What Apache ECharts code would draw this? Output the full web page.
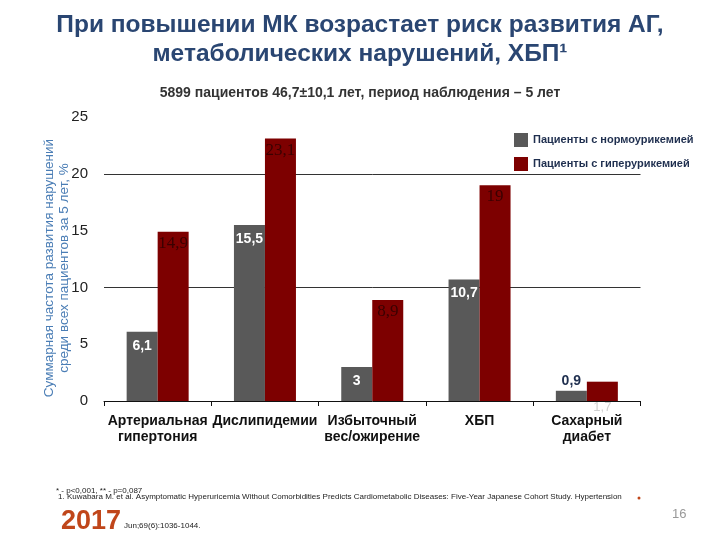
<!DOCTYPE html>
<html><head><meta charset="utf-8">
<script src="https://cdn.jsdelivr.net/npm/echarts@6/dist/echarts.min.js"></script>
<style>html,body{margin:0;padding:0;background:#fff}#c{width:720px;height:540px}</style>
</head><body><div id="c"></div>
<script>
var categories = ['Артериальная\nгипертония', 'Дислипидемии', 'Избыточный\nвес/ожирение', 'ХБП', 'Сахарный\nдиабет'];
var normoValues = [6.1, 15.5, 3, 10.7, 0.9];
var hyperValues = [14.9, 23.1, 8.9, 19, 1.7];
var seriesNames = ['Пациенты с нормоурикемией', 'Пациенты с гиперурикемией'];
var gridLineValues = [10, 20];
var yTicks = {min: 0, max: 25, interval: 5};

function fmt(v){ return String(v).replace('.', ','); }

var normoData = normoValues.map(function(v){
  if (v < 2) return {value: v, label: {position: 'top', color: '#1f2f4f', distance: 3}};
  return v;
});
var hyperData = hyperValues.map(function(v){
  if (v < 2) return {value: v, label: {position: 'bottom', color: '#d0d0d0', fontSize: 13, distance: 0, fontFamily: 'Liberation Sans'}};
  return v;
});

var chart = echarts.init(document.getElementById('c'), null, {renderer: 'canvas'});
chart.setOption({
  animation: false,
  backgroundColor: '#fff',
  title: [{
    text: 'При повышении МК возрастает риск развития АГ,\nметаболических нарушений, ХБП¹',
    left: 'center', top: 6,
    textStyle: {fontFamily: 'Liberation Sans', fontWeight: 'bold', fontSize: 24.5, color: '#2a4672', lineHeight: 29}
  }, {
    text: '5899 пациентов 46,7±10,1 лет, период наблюдения – 5 лет',
    left: 'center', top: 81,
    textStyle: {fontFamily: 'Liberation Sans', fontWeight: 'bold', fontSize: 14, color: '#333'}
  }],
  legend: {
    orient: 'vertical', left: 509, top: 128, itemWidth: 14, itemHeight: 14, itemGap: 10, icon: 'rect',
    textStyle: {fontFamily: 'Liberation Sans', fontWeight: 'bold', fontSize: 11, color: '#1f2f4f'},
    data: seriesNames
  },
  grid: {left: 104, right: 79.5, top: 117, bottom: 139},
  xAxis: {
    type: 'category', data: categories,
    axisLine: {lineStyle: {color: '#111', width: 1}},
    axisTick: {show: true, length: 5, lineStyle: {color: '#111'}},
    axisLabel: {fontFamily: 'Liberation Sans', fontWeight: 'bold', fontSize: 14, color: '#111', margin: 12, lineHeight: 16, interval: 0}
  },
  yAxis: {
    type: 'value', min: yTicks.min, max: yTicks.max, interval: yTicks.interval,
    axisLine: {show: false}, axisTick: {show: false}, splitLine: {show: false},
    axisLabel: {fontFamily: 'Liberation Sans', fontSize: 15, color: '#222', margin: 16}
  },
  series: [{
    name: seriesNames[0], type: 'bar', data: normoData, barWidth: 31, barGap: '0%',
    itemStyle: {color: '#595959'},
    label: {show: true, position: 'insideTop', distance: 7, formatter: function(p){return fmt(p.value);},
      fontFamily: 'Liberation Sans', fontWeight: 'bold', fontSize: 14, color: '#fff'},
    markLine: {silent: true, symbol: 'none', label: {show: false}, z: 1,
      lineStyle: {color: '#333', type: 'solid', width: 1},
      data: gridLineValues.map(function(v){ return {yAxis: v}; })}
  }, {
    name: seriesNames[1], type: 'bar', data: hyperData, barWidth: 31,
    itemStyle: {color: '#7d0000'},
    label: {show: true, position: 'insideTop', distance: 3, formatter: function(p){return fmt(p.value);},
      fontFamily: 'Liberation Serif', fontSize: 17, color: '#3a0000'}
  }],
  graphic: [
    {type: 'text', x: 57, y: 268, rotation: Math.PI / 2,
      style: {text: 'Суммарная частота развития нарушений\nсреди всех пациентов за 5 лет, %', fill: '#4a7db5',
        font: '13.5px Liberation Sans', textAlign: 'center', textVerticalAlign: 'middle', lineHeight: 15}},
    {type: 'text', x: 56, y: 487, style: {text: '* - p<0,001, ** - p=0,087', fill: '#222', font: '8px Liberation Sans'}},
    {type: 'text', x: 58, y: 493, style: {text: '1. Kuwabara M. et al. Asymptomatic Hyperuricemia Without Comorbidities Predicts Cardiometabolic Diseases: Five-Year Japanese Cohort Study. Hypertension', fill: '#222', font: '8px Liberation Sans'}},
    {type: 'circle', shape: {cx: 639, cy: 498, r: 1.5}, style: {fill: '#c0461a'}},
    {type: 'text', x: 61, y: 508, style: {text: '2017', fill: '#c0461a', font: 'bold 27px Liberation Sans'}},
    {type: 'text', x: 124, y: 522, style: {text: 'Jun;69(6):1036-1044.', fill: '#222', font: '8px Liberation Sans'}},
    {type: 'text', x: 672, y: 508, style: {text: '16', fill: '#999', font: '13px Liberation Sans'}}
  ]
});
</script></body></html>
